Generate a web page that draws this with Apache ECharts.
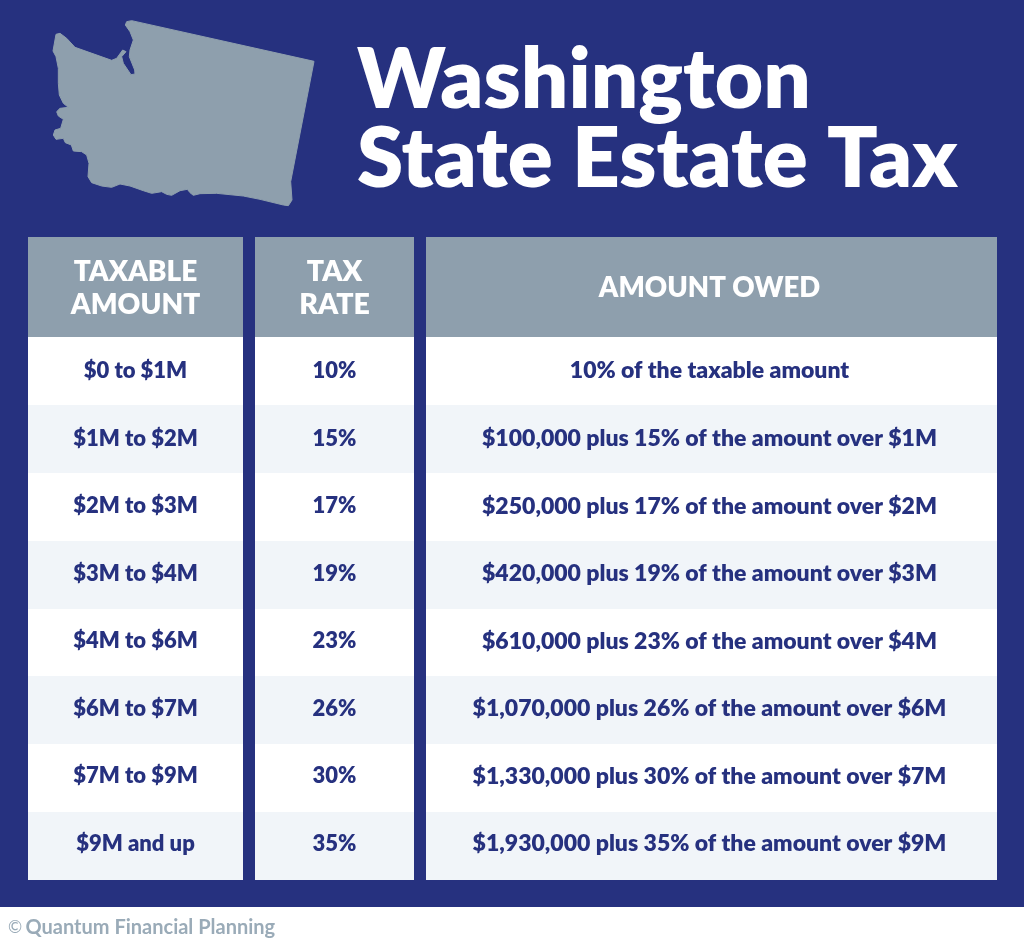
<!DOCTYPE html>
<html>
<head>
<meta charset="utf-8" />
<title>Washington State Estate Tax</title>
<script src="https://cdn.jsdelivr.net/npm/echarts@6/dist/echarts.min.js"></script>
<style>
html, body { margin: 0; padding: 0; background: #fff; }
#main { width: 1024px; height: 948px; }
</style>
</head>
<body>
<div id="main"></div>
<script type="text/javascript">
// table content
var headers = ['TAXABLE\nAMOUNT', 'TAX\nRATE', 'AMOUNT OWED'];
var taxableAmounts = ['$0 to $1M', '$1M to $2M', '$2M to $3M', '$3M to $4M', '$4M to $6M', '$6M to $7M', '$7M to $9M', '$9M and up'];
var taxRates = ['10%', '15%', '17%', '19%', '23%', '26%', '30%', '35%'];
var amountsOwed = [
	'10% of the taxable amount',
	'$100,000 plus 15% of the amount over $1M',
	'$250,000 plus 17% of the amount over $2M',
	'$420,000 plus 19% of the amount over $3M',
	'$610,000 plus 23% of the amount over $4M',
	'$1,070,000 plus 26% of the amount over $6M',
	'$1,330,000 plus 30% of the amount over $7M',
	'$1,930,000 plus 35% of the amount over $9M'
];
var columns = [taxableAmounts, taxRates, amountsOwed];

var NAVY = '#26317f', SLATE = '#8e9fad', STRIPE = '#f1f5f9';
var FONT = 'Lato, "Noto Sans", sans-serif';
// column edges in px, the x axis runs 0..1024
var colLeft = [28, 255, 426];
var colRight = [243, 414, 997];
var bodyFontSize = [22, 22, 23];
var headerFontSize = [28, 28.5, 27.5];

// state outline, traced at 3x and scaled down in the graphic below
var outline = [[290,65],[305,62],[852,184],[782,545],[786,600],[775,617],[760,615],[690,598],[640,588],[560,580],[510,581],[490,586],[480,578],[472,568],[450,572],[425,586],[410,583],[395,575],[365,580],[340,572],[300,558],[270,552],[245,562],[215,558],[185,548],[174,530],[177,490],[170,465],[155,455],[130,453],[124,435],[106,428],[100,415],[78,418],[70,405],[75,390],[92,385],[100,358],[85,348],[80,335],[90,325],[115,322],[100,310],[88,285],[85,250],[85,205],[78,170],[69,153],[78,103],[90,100],[110,115],[135,142],[245,181],[260,175],[278,150],[288,155],[275,170],[280,190],[303,224],[315,222],[314,210],[298,170],[300,150],[310,120],[300,95],[286,75]];

function cellRender(isHeader) {
	return function (params, api) {
		var col = api.value(0), row = api.value(1);
		var h = api.size([0, 1])[1];
		var left = api.coord([colLeft[col], row]);
		var right = api.coord([colRight[col], row]);
		var fill = isHeader ? SLATE : (row % 2 ? STRIPE : '#fff');
		// whole pixels, otherwise the navy shows through between rows
		var top = Math.round(left[1] - h / 2);
		var bottom = Math.round(left[1] + h / 2);
		var textX = (left[0] + right[0]) / 2 - (col == 2 ? 2 : 0);
		var textY = isHeader ? left[1] + 1 : left[1] - row * 0.3;
		return {
			type: 'group',
			children: [{
				type: 'rect',
				shape: { x: left[0], y: top, width: right[0] - left[0], height: bottom - top },
				style: { fill: fill }
			}, {
				type: 'text',
				x: textX,
				y: textY,
				style: {
					text: api.value(2),
					fill: isHeader ? '#fff' : NAVY,
					fontFamily: FONT,
					fontWeight: 800,
					fontSize: isHeader ? headerFontSize[col] : bodyFontSize[col],
					lineHeight: 33,
					align: 'center',
					verticalAlign: 'middle'
				}
			}]
		};
	};
}

var headerData = [], bodyData = [];
headers.forEach(function (h, c) { headerData.push([c, 0, h]); });
columns.forEach(function (list, c) {
	list.forEach(function (t, r) { bodyData.push([c, r, t]); });
});

var myChart = echarts.init(document.getElementById('main'), null, { renderer: 'canvas' });
myChart.setOption({
	animation: false,
	backgroundColor: NAVY,
	title: {
		text: 'Washington\nState Estate Tax',
		left: 352,
		top: 37,
		textStyle: { color: '#fff', fontFamily: FONT, fontWeight: 800, fontSize: 83.5, lineHeight: 79 }
	},
	grid: [
		{ left: 0, right: 0, top: 237, height: 100 },
		{ left: 0, right: 0, top: 337, height: 543 }
	],
	xAxis: [
		{ type: 'value', gridIndex: 0, min: 0, max: 1024, show: false },
		{ type: 'value', gridIndex: 1, min: 0, max: 1024, show: false }
	],
	yAxis: [
		{ type: 'category', gridIndex: 0, data: ['header'], show: false },
		{ type: 'category', gridIndex: 1, data: taxableAmounts, inverse: true, show: false }
	],
	series: [
		{ type: 'custom', xAxisIndex: 0, yAxisIndex: 0, silent: true, renderItem: cellRender(true), data: headerData },
		{ type: 'custom', xAxisIndex: 1, yAxisIndex: 1, silent: true, renderItem: cellRender(false), data: bodyData }
	],
	graphic: [
		{
			type: 'polygon',
			x: 30, y: 0, scaleX: 1 / 3, scaleY: 1 / 3,
			shape: { points: outline },
			style: { fill: SLATE, stroke: SLATE, lineWidth: 3, lineJoin: 'round' }
		},
		{ type: 'rect', shape: { x: 0, y: 907, width: 1024, height: 41 }, style: { fill: '#fff' } },
		{
			type: 'text',
			x: 8, y: 928,
			style: {
				text: '{a|©} {b|Quantum Financial Planning}',
				verticalAlign: 'middle',
				rich: {
					a: { fontFamily: FONT, fontSize: 17, fill: '#9aabb8' },
					b: { fontFamily: FONT, fontSize: 20, fontWeight: 700, fill: '#9aabb8' }
				}
			}
		}
	]
});
</script>
</body>
</html>
